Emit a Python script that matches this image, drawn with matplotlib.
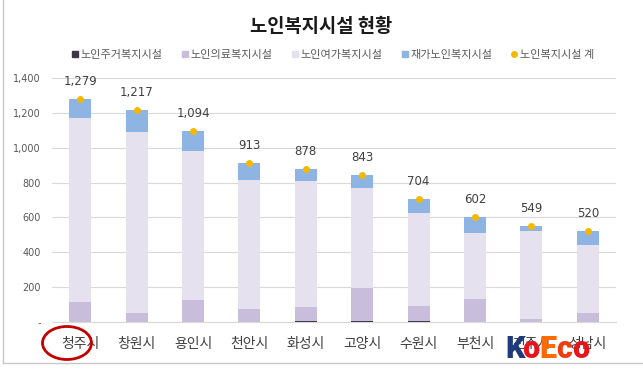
import matplotlib.pyplot as plt
import numpy as np
from matplotlib.patches import Ellipse
from matplotlib.lines import Line2D

plt.rcParams['font.family'] = ['Noto Sans CJK KR', 'DejaVu Sans']

# data
cities = ['청주시', '창원시', '용인시', '천안시', '화성시', '고양시', '수원시', '부천시', '전주시', '성남시']
housing = [0, 0, 0, 0, 5, 5, 6, 0, 0, 0]           # 노인주거복지시설
medical = [114, 50, 126, 72, 81, 189, 85, 133, 19, 50]   # 노인의료복지시설
leisure = [1056, 1043, 853, 745, 721, 576, 534, 379, 503, 394]  # 노인여가복지시설
homecare = [109, 124, 115, 96, 71, 73, 79, 90, 27, 76]   # 재가노인복지시설
total = [1279, 1217, 1094, 913, 878, 843, 704, 602, 549, 520]  # 노인복지시설 계

c_house = '#3b3547'
c_med = '#c8bedc'
c_leis = '#e6e1ee'
c_home = '#8eb4e3'
c_tot = '#f5b800'

fig = plt.figure(figsize=(6.43, 3.76), dpi=100)
ax = fig.add_axes([52/643, 1-322/376, 564/643, 244/376])

x = np.arange(len(cities))
w = 0.39
b1 = np.array(housing)
b2 = b1 + np.array(medical)
b3 = b2 + np.array(leisure)
ax.bar(x, housing, w, color=c_house, zorder=2)
ax.bar(x, medical, w, bottom=b1, color=c_med, zorder=2)
ax.bar(x, leisure, w, bottom=b2, color=c_leis, zorder=2)
ax.bar(x, homecare, w, bottom=b3, color=c_home, zorder=2)
ax.plot(x, total, 'o', color=c_tot, ms=4, zorder=3)
for xi, t in zip(x, total):
    ax.annotate(f'{t:,}', (xi, t), xytext=(0, 8), textcoords='offset points',
                ha='center', va='bottom', fontsize=8.5, color='#404040',
                family=['DejaVu Sans'])

ax.set_xlim(-0.5, len(cities) - 0.5)
ax.set_ylim(0, 1400)
yt = np.arange(0, 1401, 200)
ax.set_yticks(yt)
ax.set_yticklabels(['-'] + [f'{v:,}' for v in yt[1:]], fontsize=7, color='#595959',
                   family=['DejaVu Sans'])
ax.set_xticks(x)
ax.set_xticklabels(cities, fontsize=10, color='#404040')
ax.tick_params(axis='both', length=0)
ax.tick_params(axis='x', pad=11)
ax.tick_params(axis='y', pad=8)
ax.grid(axis='y', color='#d9d9d9', lw=0.8, zorder=0)
for s in ['top', 'right', 'left']:
    ax.spines[s].set_visible(False)
ax.spines['bottom'].set_color('#d9d9d9')

fig.text(0.5, 1-27/376, '노인복지시설 현황', ha='center', va='center',
         fontsize=13.5, fontweight='bold', color='#1a1a1a')

handles = [
    Line2D([], [], marker='s', ls='', color=c_house, ms=4),
    Line2D([], [], marker='s', ls='', color=c_med, ms=4),
    Line2D([], [], marker='s', ls='', color=c_leis, ms=4),
    Line2D([], [], marker='s', ls='', color=c_home, ms=4),
    Line2D([], [], marker='o', ls='', color=c_tot, ms=4),
]
labels = ['노인주거복지시설', '노인의료복지시설', '노인여가복지시설', '재가노인복지시설', '노인복지시설 계']
leg = fig.legend(handles, labels, loc='center', bbox_to_anchor=(0.517, 1-55/376), ncol=5,
                 frameon=False, fontsize=8, handletextpad=0.1, columnspacing=1.6,
                 handlelength=0.8)
for t in leg.get_texts():
    t.set_color('#595959')

# red circle around the first city
fig.add_artist(Ellipse((67/643, 1-343/376), 49/643, 33/376, transform=fig.transFigure,
                       fill=False, ec='#c00000', lw=2))

# frame lines of the screenshot
fig.add_artist(Line2D([3/643, 3/643], [1-363/376, 1], transform=fig.transFigure,
                      color='#c8c8c8', lw=1))
fig.add_artist(Line2D([3/643, 1], [1-363/376, 1-363/376], transform=fig.transFigure,
                      color='#c8c8c8', lw=1))

# KoEco logo
logo_x = 505/643
logo_y = 1-349/376
parts = [('K', '#1f3a7a'), ('o', '#e8141c'), ('E', '#ff6a00'), ('c', '#f03c10'), ('o', '#e8141c')]
offs = [0, 17, 34, 51, 67]
for (s, c), o in zip(parts, offs):
    fig.text(logo_x + o/643, logo_y, s, color=c, fontsize=22, fontweight='black',
             family=['Roboto', 'DejaVu Sans'], va='center', ha='left')

fig.savefig('out.png', dpi=100)
